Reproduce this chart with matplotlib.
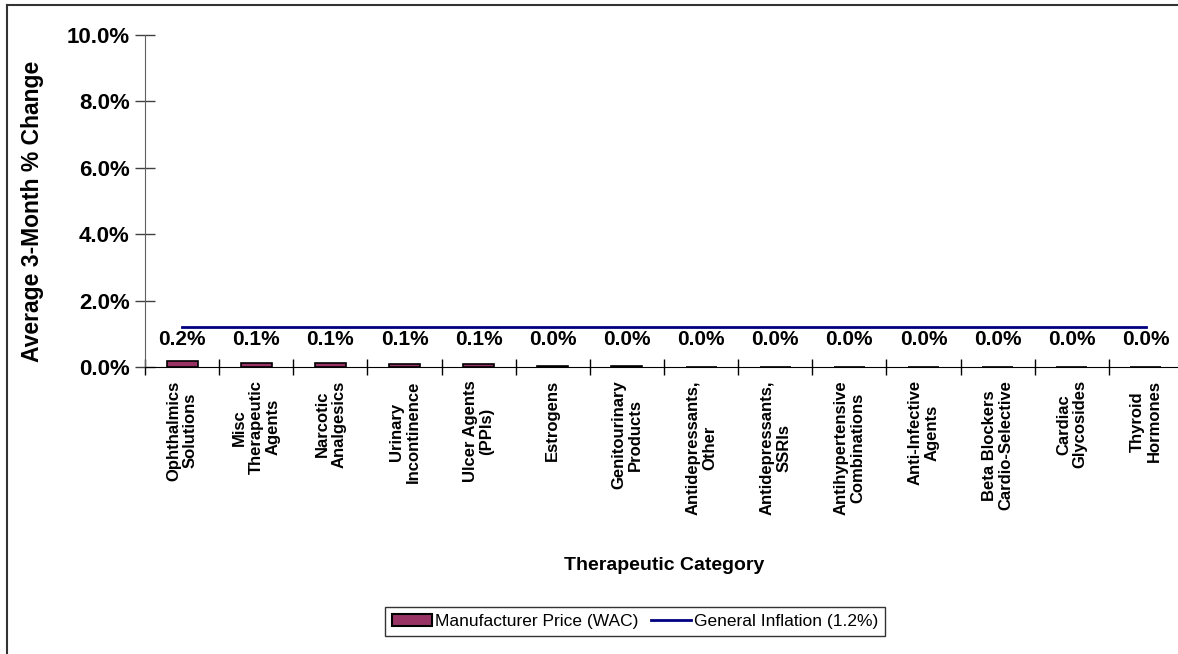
import matplotlib
matplotlib.use("Agg")
import matplotlib.pyplot as plt
from matplotlib.lines import Line2D
from matplotlib.patches import Patch
import numpy as np

plt.rcParams['font.family'] = ['Liberation Sans', 'DejaVu Sans']

categories = ["Ophthalmics\nSolutions", "Misc\nTherapeutic\nAgents", "Narcotic\nAnalgesics",
              "Urinary\nIncontinence", "Ulcer Agents\n(PPIs)", "Estrogens",
              "Genitourinary\nProducts", "Antidepressants,\nOther", "Antidepressants,\nSSRIs",
              "Antihypertensive\nCombinations", "Anti-Infective\nAgents",
              "Beta Blockers\nCardio-Selective", "Cardiac\nGlycosides", "Thyroid\nHormones"]
wac_change = [0.18, 0.12, 0.12, 0.09, 0.08, 0.03, 0.02, 0.004, 0.003, 0.002, 0.001, 0.0, 0.0, 0.0]
inflation = [1.2] * len(categories)
yticks = [0, 2, 4, 6, 8, 10]

W, H = 1178, 654
fig = plt.figure(figsize=(W / 100, H / 100), dpi=100)
ax = fig.add_axes([145 / W, 1 - 367 / H, (1183 - 145) / W, (367 - 35) / H])

x = np.arange(len(categories))
ax.bar(x, wac_change, width=0.42, color='#993366', edgecolor='black', linewidth=1.2, zorder=3)
ax.plot(x, inflation, color='#000080', linewidth=2, zorder=4)

for xi, v in zip(x, wac_change):
    ax.text(xi, 0.55, f"{v:.1f}%", ha='center', va='bottom', fontsize=15,
            fontweight='bold', zorder=5)

ax.set_xlim(-0.5, len(categories) - 0.5)
ax.set_ylim(0, 10)
ax.set_yticks(yticks)
ax.set_yticklabels([f"{t:.1f}%" for t in yticks], fontsize=16, fontweight='bold')
ax.tick_params(axis='y', direction='inout', length=14, width=1, pad=4, color='#404040')

ax.set_xticks(np.arange(len(categories) + 1) - 0.5)
ax.set_xticklabels([])
ax.tick_params(axis='x', direction='inout', length=12, width=1, color='black')
for xi, c in zip(x, categories):
    ax.text(xi, -0.4, c, rotation=90, ha='center', va='top', multialignment='center',
            fontsize=12, fontweight='bold', linespacing=1.15)

for s in ['top', 'right']:
    ax.spines[s].set_visible(False)
ax.spines['left'].set_color('#606060')
ax.spines['bottom'].set_color('black')

fig.text(33 / W, 1 - 211 / H, "Average 3-Month % Change", rotation=90, ha='center', va='center',
         fontsize=16.5, fontweight='bold')
fig.text(664 / W, 1 - 565 / H, "Therapeutic Category", ha='center', va='center',
         fontsize=14, fontweight='bold')

handles = [Patch(facecolor='#993366', edgecolor='black', linewidth=1.5),
           Line2D([0], [0], color='#000080', linewidth=2)]
leg = fig.legend(handles, ["Manufacturer Price (WAC)", "General Inflation (1.2%)"],
                 loc='center', bbox_to_anchor=(635 / W, 1 - 621.5 / H), ncol=2,
                 fontsize=12.5, frameon=True, fancybox=False, edgecolor='black',
                 handlelength=2.3, handletextpad=0.2, columnspacing=0.7,
                 borderpad=0.4, borderaxespad=0)
leg.get_frame().set_linewidth(1.0)

fig.add_artist(Line2D([7 / W, 7 / W], [0, 1 - 5 / H], color='#333333', linewidth=1.5))
fig.add_artist(Line2D([7 / W, 1], [1 - 5 / H, 1 - 5 / H], color='#333333', linewidth=1.5))

fig.savefig("out.png", dpi=100)
